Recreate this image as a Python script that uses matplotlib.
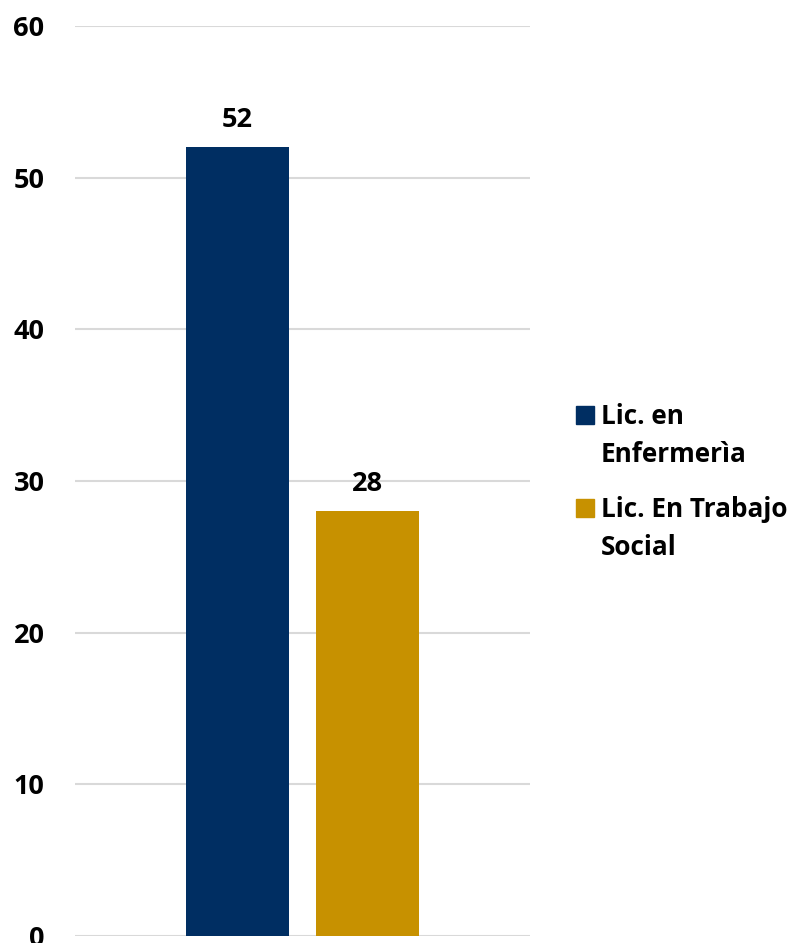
import matplotlib
matplotlib.use('Agg')
from matplotlib import pyplot as plt
from matplotlib.patches import Rectangle

series = ['Lic. en\nEnfermerìa', 'Lic. En Trabajo\nSocial']
values = [52, 28]
colors = ['#002E62', '#C79100']
yticks = [0, 10, 20, 30, 40, 50, 60]

plt.rcParams['font.family'] = ['Open Sans', 'DejaVu Sans']
plt.rcParams['font.weight'] = 'bold'

fig = plt.figure(figsize=(7.96, 9.43), dpi=100)
ax = fig.add_axes([75/796, 7/943, 455/796, 910/943])

pos = [-0.5, 0.5]
bars = ax.bar(pos, values, width=0.785, color=colors, zorder=3)
for b, v in zip(bars, values):
    ax.annotate(str(v), (b.get_x() + b.get_width()/2, v), xytext=(0, 20),
                textcoords='offset points', ha='center', va='center',
                fontsize=19.5, fontweight='bold')

ax.set_xlim(-1.75, 1.75)
ax.set_ylim(0, 60)
ax.set_yticks(yticks)
ax.set_xticks([])
ax.yaxis.grid(True, color='#D9D9D9', linewidth=1.5, zorder=0)
for s in ax.spines.values():
    s.set_visible(False)
ax.tick_params(axis='y', length=0, pad=22, labelsize=19.5)
for lab in ax.get_yticklabels():
    lab.set_fontweight('bold')

# legend drawn by hand so the square sits on the first text line
ly = [415, 508]
for name, c, y in zip(series, colors, ly):
    fig.patches.append(Rectangle((576/796, 1 - (y + 9)/943), 18/796, 18/943,
                                 transform=fig.transFigure, color=c))
    fig.text(601/796, 1 - (y + 47)/943, name, ha='left', va='baseline',
             fontsize=18.8, fontweight='bold', linespacing=1.53)

fig.savefig('out.png', dpi=100)
